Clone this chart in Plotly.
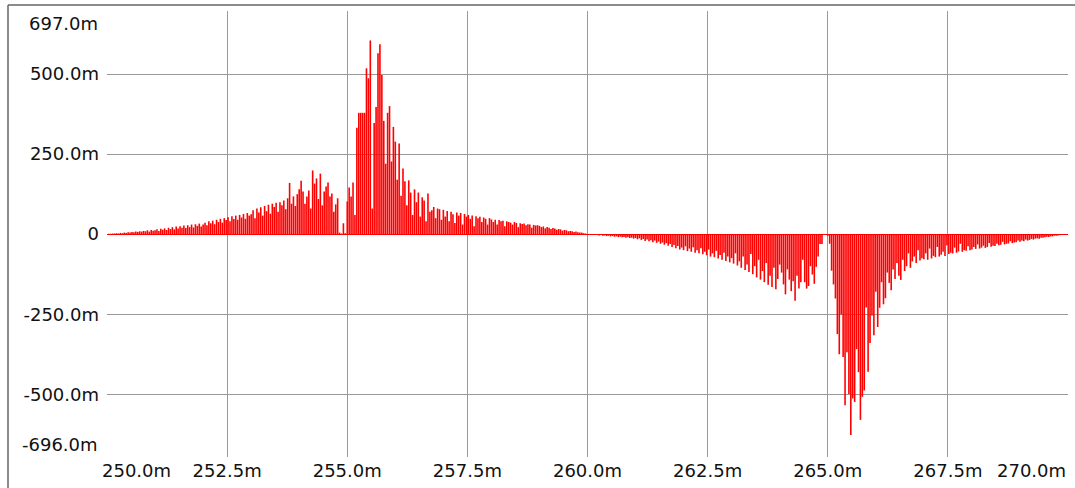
import plotly.graph_objects as go

# ---- data (values in milli-units), sampled every 0.04 m from 250.0 m ----
x_start = 250.0
x_step = 0.04

pos_250 = [0,1,1,2,2,3,2,4,3,5,4,6,5,7,6,8,7,9,8,10,9,12,8,13,11]
pos_251 = [12,15,10,17,14,18,13,20,16,22,15,24,18,25,20,27,19,28,22,30,21,31,26,33,24]
pos_252 = [30,36,28,40,34,42,31,45,38,48,36,50,44,53,40,56,47,58,45,60,52,63,48,66,58]
pos_253 = [62,75,50,80,68,84,58,88,72,92,64,95,85,98,70,100,90,105,78,112,160,95,118,88,125]
pos_254 = [140,167,133,95,118,136,80,199,158,174,110,189,90,133,149,161,118,127,70,93,112,5,2,34,3]
pos_255 = [102,146,118,161,60,332,379,379,379,379,518,487,605,80,347,397,565,593,497,354,220,379,400,227,335]
pos_256 = [289,170,283,120,205,165,90,168,130,60,140,100,130,55,115,105,40,127,70,75,85,50,80,78,45]
pos_257 = [76,55,72,40,70,62,35,68,58,66,30,63,55,60,48,58,25,56,50,54,38,52,48,30,50]
pos_258 = [46,38,45,30,44,40,42,25,40,38,36,30,38,35,22,34,32,33,28,31,30,20,29,27,28]
pos_259 = [26,22,24,18,22,20,16,19,18,14,16,15,11,13,12,9,10,9,7,8,6,5,5,3,2]
neg_260 = [1,-1,-2,-2,-3,-2,-4,-3,-5,-4,-6,-5,-7,-6,-8,-7,-9,-8,-10,-9,-11,-10,-12,-11,-14]
neg_261 = [-12,-16,-13,-18,-15,-21,-17,-22,-19,-25,-20,-27,-23,-30,-26,-33,-28,-36,-31,-40,-34,-44,-37,-48,-42]
neg_262 = [-50,-38,-53,-45,-55,-41,-58,-50,-60,-44,-63,-55,-66,-48,-70,-60,-72,-52,-76,-65,-80,-58,-84,-70,-88]
neg_263 = [-75,-92,-60,-98,-85,-105,-70,-112,-95,-118,-62,-125,-100,-135,-80,-142,-115,-150,-90,-158,-130,-165,-105,-172,-140]
neg_264 = [-95,-120,-157,-188,-110,-142,-178,-147,-208,-130,-170,-150,-80,-150,-170,-162,-100,-126,-155,-102,-70,-31,-31,-3,-2]
neg_265 = [-5,-30,-114,-157,-201,-312,-375,-251,-384,-534,-369,-499,-627,-513,-524,-359,-431,-580,-508,-488,-229,-430,-340,-254,-316]
neg_266 = [-180,-290,-230,-150,-219,-200,-120,-152,-175,-110,-140,-90,-130,-143,-80,-115,-100,-60,-105,-85,-70,-90,-50,-82,-75]
neg_267 = [-78,-60,-80,-45,-76,-68,-72,-40,-70,-64,-55,-68,-35,-62,-58,-60,-42,-58,-54,-30,-55,-50,-52,-38,-50]
neg_268 = [-48,-40,-46,-32,-45,-42,-36,-43,-40,-28,-39,-36,-37,-30,-35,-33,-24,-32,-30,-29,-22,-28,-26,-25,-20]
neg_269 = [-24,-20,-22,-17,-20,-18,-15,-17,-14,-13,-14,-11,-11,-10,-8,-9,-7,-7,-5,-5,-4,-3,-2,-2,-1,0]

x_ticks = [252.5, 255.0, 257.5, 260.0, 262.5, 265.0, 267.5]
x_ticktext = ["252.5m", "255.0m", "257.5m", "260.0m", "262.5m", "265.0m", "267.5m"]
x_edge_labels = ["250.0m", "270.0m"]
y_ticks = [-500, -250, 0, 250, 500]
y_ticktext = ["-500.0m", "-250.0m", "0", "250.0m", "500.0m"]
y_min, y_max = -696, 697
y_edge_labels = ["697.0m", "-696.0m"]

values = (pos_250 + pos_251 + pos_252 + pos_253 + pos_254 + pos_255 + pos_256 +
          pos_257 + pos_258 + pos_259 + neg_260 + neg_261 + neg_262 + neg_263 +
          neg_264 + neg_265 + neg_266 + neg_267 + neg_268 + neg_269)
xs = [round(x_start + x_step * i, 3) for i in range(len(values))]

# stems: each sample drawn as a vertical line from 0 to its value
stem_x, stem_y = [], []
for xv, yv in zip(xs, values):
    stem_x += [xv, xv, None]
    stem_y += [0, yv, None]

FONT = dict(family="DejaVu Sans", size=18, color="#111111")

fig = go.Figure()
fig.add_trace(go.Scatter(x=stem_x, y=stem_y, mode="lines",
                         line=dict(color="#ff0000", width=1.6),
                         hoverinfo="skip", connectgaps=False))

W, H = 1075, 488
L, R, T, B = 107, 7, 11, 28
pw, ph = W - L - R, H - T - B

def px_x(p):
    return (p - L) / pw

def px_y(p):
    return (H - B - p) / ph

fig.update_layout(
    width=W, height=H,
    margin=dict(l=L, r=R, t=T, b=B, pad=0),
    paper_bgcolor="white", plot_bgcolor="white",
    showlegend=False,
    font=FONT,
    xaxis=dict(range=[250, 270], tickvals=x_ticks, ticktext=x_ticktext,
               showgrid=True, gridcolor="#999999", gridwidth=1.2,
               zeroline=False, showline=False, ticks="", ticklabelstandoff=1,
               tickfont=FONT),
    yaxis=dict(range=[y_min, y_max], tickvals=y_ticks, ticktext=y_ticktext,
               showgrid=True, gridcolor="#999999", gridwidth=1.2,
               zeroline=True, zerolinecolor="#ff0000", zerolinewidth=1,
               showline=False, ticks="", ticklabelstandoff=7, tickfont=FONT),
    shapes=[
        dict(type="line", xref="paper", yref="paper", x0=px_x(8), x1=px_x(8),
             y0=px_y(5), y1=px_y(H + 5), line=dict(color="#666666", width=1.5)),
        dict(type="line", xref="paper", yref="paper", x0=px_x(8), x1=px_x(W + 5),
             y0=px_y(5), y1=px_y(5), line=dict(color="#666666", width=1.5)),
    ],
    annotations=[
        dict(text=x_edge_labels[0], xref="paper", yref="paper", x=0, y=0,
             xanchor="left", yanchor="top", xshift=-7, yshift=-1,
             showarrow=False, font=FONT),
        dict(text=x_edge_labels[1], xref="paper", yref="paper", x=1, y=0,
             xanchor="right", yanchor="top", xshift=0, yshift=-1,
             showarrow=False, font=FONT),
        dict(text=y_edge_labels[0], xref="paper", yref="y", x=0, y=y_max,
             xanchor="right", yanchor="top", xshift=-7, yshift=0,
             showarrow=False, font=FONT),
        dict(text=y_edge_labels[1], xref="paper", yref="y", x=0, y=y_min,
             xanchor="right", yanchor="bottom", xshift=-7, yshift=0,
             showarrow=False, font=FONT),
    ],
)

fig.write_html("out.html")
